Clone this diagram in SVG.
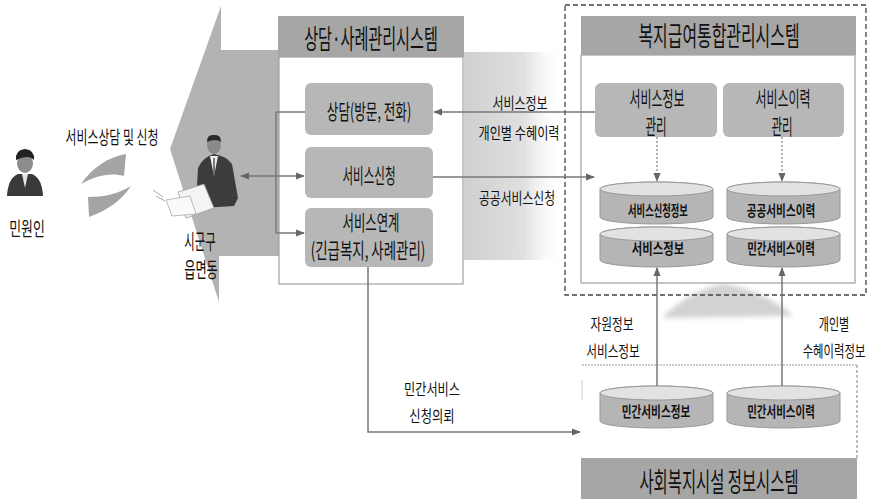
<svg xmlns="http://www.w3.org/2000/svg" width="872" height="499" viewBox="0 0 872 499">
<style>
text{font-family:"Noto Sans CJK KR","Noto Sans",sans-serif;fill:#111;text-anchor:middle;dominant-baseline:central}
.h{font-size:27px}
.b{font-size:21px}
.c{font-size:15px;font-weight:bold}
.l{font-size:16px}
.hdr{fill:#a6a6a6}
.box{fill:#b7b7b7}
.frame{fill:#fff;stroke:#a0a0a0;stroke-width:1.2}
.ln{fill:none;stroke:#777;stroke-width:1.5}
.dot{fill:none;stroke:#888;stroke-width:1.3;stroke-dasharray:2 2}
.dash{fill:none;stroke:#444;stroke-width:1.3;stroke-dasharray:5 3}
.cyl{fill:#b5b5b5;stroke:#999;stroke-width:1}
.cyltop{fill:#e2e2e2;stroke:#999;stroke-width:1}
</style>
<defs>
<marker id="ah" viewBox="0 0 10 10" refX="9" refY="5" markerUnits="userSpaceOnUse" markerWidth="9" markerHeight="9" orient="auto"><path d="M0,1 L10,5 L0,9 z" fill="#666"/></marker>
<linearGradient id="haze" x1="0" x2="1" y1="0" y2="0"><stop offset="0" stop-color="#cfcfcf"/><stop offset="0.6" stop-color="#e0e0e0"/><stop offset="1" stop-color="#ffffff" stop-opacity="0"/></linearGradient>
<filter id="soft" x="-20%" y="-20%" width="140%" height="140%"><feGaussianBlur stdDeviation="2.5"/></filter>
</defs>

<!-- hazy flow areas -->
<rect x="464" y="52" width="100" height="208" fill="url(#haze)"/>
<path d="M662,318 Q690,290 722,284 Q760,288 794,316 Z" fill="#d2d2d2" filter="url(#soft)"/>

<!-- big arrow of the local office -->
<g id="office">
<polygon points="221,6 221,50 279,50 279,256 219,256 219,302 170,149" fill="#b3b3b3"/>
<g id="officer">
<path d="M196,204 L198,168 Q203,157 214,154 Q226,156 232,164 L238,198 L234,206 L202,208 Z" fill="#3c3c3c"/>
<polygon points="210,156 218,156 214,176" fill="#eeeeee"/>
<line x1="214" y1="158" x2="214" y2="174" stroke="#555" stroke-width="1.5"/>
<ellipse cx="214" cy="145" rx="7" ry="9" fill="#8a8a8a"/>
<path d="M207,142 Q207,134 214,135 Q221,134 221,142 Q216,138 207,142 Z" fill="#2a2a2a"/>
<polygon points="178,192 204,184 214,208 186,218" fill="#f4f4f4" stroke="#999" stroke-width="0.8"/>
<polygon points="166,200 190,196 196,214 172,216" fill="#fafafa" stroke="#aaa" stroke-width="0.8"/>
<line x1="153" y1="190" x2="163" y2="197" stroke="#aaa" stroke-width="1"/>
<line x1="156" y1="196" x2="165" y2="201" stroke="#aaa" stroke-width="1"/>
</g>
<text class="b" transform="translate(200,240) scale(0.54,1)">시군구</text>
<text class="b" transform="translate(201,268) scale(0.58,1)">읍면동</text>
</g>

<!-- citizen -->
<g id="citizen">
<path d="M7,196 Q8,178 18,174 L32,174 Q42,178 43,196 Z" fill="#3a3a3a"/>
<polygon points="22,174 28,174 25,188" fill="#e6e6e6"/>
<ellipse cx="25" cy="163" rx="8" ry="10" fill="#8c8c8c"/>
<path d="M16,160 Q15,150 25,149 Q35,150 34,160 Q29,154 16,160 Z" fill="#222"/>
<text style="font-size:19px" transform="translate(27,228) scale(0.68,1)">민원인</text>
</g>

<!-- exchange between citizen and office -->
<g id="exchange">
<path d="M81,184 C92,168 108,157 126,154 L124,176 C110,172 95,176 81,184 Z" fill="#a4a4a4"/>
<path d="M131,186 C122,200 108,210 89,217 L88,197 C104,197 118,194 131,186 Z" fill="#a4a4a4"/>
<text style="font-size:18px" transform="translate(112,136) scale(0.66,1)">서비스상담 및 신청</text>
</g>

<!-- counselling / case management system -->
<g id="counsel-system">
<rect class="frame" x="279" y="57" width="184" height="227"/>
<rect class="hdr" x="278" y="16" width="186" height="41"/>
<text class="h" transform="translate(371,37) scale(0.56,1)">상담·사례관리시스템</text>
</g>
<g id="counsel">
<rect class="box" x="305" y="83" width="128" height="52" rx="6"/>
<text class="b" transform="translate(369,110) scale(0.6,1)">상담(방문, 전화)</text>
</g>
<g id="apply">
<rect class="box" x="305" y="147" width="128" height="51" rx="6"/>
<text class="b" transform="translate(369,174) scale(0.55,1)">서비스신청</text>
</g>
<g id="link">
<rect class="box" x="305" y="208" width="128" height="59" rx="6"/>
<text class="b" transform="translate(371,221) scale(0.59,1)">서비스연계</text>
<text class="b" transform="translate(368,249) scale(0.64,1)">(긴급복지, 사례관리)</text>
</g>

<!-- integrated welfare benefit system -->
<g id="benefit-system">
<rect class="dash" x="565" y="5" width="301" height="290"/>
<rect class="frame" x="581" y="55" width="274" height="228"/>
<rect class="hdr" x="581" y="16" width="275" height="39"/>
<text class="h" transform="translate(719,34) scale(0.59,1)">복지급여통합관리시스템</text>
</g>
<g id="info-mgmt">
<rect class="box" x="595" y="83" width="122" height="54" rx="6"/>
<text class="b" transform="translate(657,97) scale(0.57,1)">서비스정보</text>
<text class="b" transform="translate(656,125) scale(0.55,1)">관리</text>
</g>
<g id="history-mgmt">
<rect class="box" x="723" y="83" width="121" height="54" rx="6"/>
<text class="b" transform="translate(783,97) scale(0.57,1)">서비스이력</text>
<text class="b" transform="translate(782,125) scale(0.55,1)">관리</text>
</g>
<g id="db-apply">
<path class="cyl" d="M600,189 L600,217 A56.5,7 0 0 0 713,217 L713,189 A56.5,7 0 0 0 600,189 Z"/>
<ellipse class="cyltop" cx="656.5" cy="189" rx="56.5" ry="7"/>
<text class="c" transform="translate(658,210) scale(0.62,1)">서비스신청정보</text>
</g>
<g id="db-info">
<path class="cyl" d="M600,234 L600,260 A56.5,7 0 0 0 713,260 L713,234 A56.5,7 0 0 0 600,234 Z"/>
<ellipse class="cyltop" cx="656.5" cy="234" rx="56.5" ry="7"/>
<text class="c" transform="translate(658,248) scale(0.76,1)">서비스정보</text>
</g>
<g id="db-public">
<path class="cyl" d="M727,189 L727,217 A56.5,7 0 0 0 840,217 L840,189 A56.5,7 0 0 0 727,189 Z"/>
<ellipse class="cyltop" cx="783.5" cy="189" rx="56.5" ry="7"/>
<text class="c" transform="translate(781,210) scale(0.71,1)">공공서비스이력</text>
</g>
<g id="db-private">
<path class="cyl" d="M727,234 L727,260 A56.5,7 0 0 0 840,260 L840,234 A56.5,7 0 0 0 727,234 Z"/>
<ellipse class="cyltop" cx="783.5" cy="234" rx="56.5" ry="7"/>
<text class="c" transform="translate(781,248) scale(0.7,1)">민간서비스이력</text>
</g>

<!-- social welfare facility information system -->
<g id="facility-system">
<path d="M582,365 L857,365" fill="none" stroke="#999" stroke-width="1.2" stroke-dasharray="2 1"/>
<path d="M857,365 L857,458" fill="none" stroke="#999" stroke-width="1.2" stroke-dasharray="3 2"/>
<path d="M582,380 L582,400" fill="none" stroke="#ccc" stroke-width="1"/>
<rect class="hdr" x="581" y="458" width="276" height="41"/>
<text class="h" transform="translate(719,480) scale(0.57,1)">사회복지시설 정보시스템</text>
</g>
<g id="db-fac-info">
<path class="cyl" d="M600,393 L600,421 A56.5,7 0 0 0 713,421 L713,393 A56.5,7 0 0 0 600,393 Z"/>
<ellipse class="cyltop" cx="656.5" cy="393" rx="56.5" ry="7"/>
<text class="c" transform="translate(656,411) scale(0.71,1)">민간서비스정보</text>
</g>
<g id="db-fac-history">
<path class="cyl" d="M727,393 L727,421 A56.5,7 0 0 0 840,421 L840,393 A56.5,7 0 0 0 727,393 Z"/>
<ellipse class="cyltop" cx="783.5" cy="393" rx="56.5" ry="7"/>
<text class="c" transform="translate(781,411) scale(0.7,1)">민간서비스이력</text>
</g>

<!-- connectors -->
<g id="connectors">
<path class="ln" d="M276,112 L276,233"/>
<path class="ln" d="M276,112 L305,112"/>
<path class="ln" d="M276,176 L241,176" marker-end="url(#ah)"/>
<path class="ln" d="M276,176 L304,176" marker-end="url(#ah)"/>
<path class="ln" d="M276,233 L304,233" marker-end="url(#ah)"/>
<path class="ln" d="M595,112 L434,112" marker-end="url(#ah)"/>
<path class="ln" d="M433,177 L594,177" marker-end="url(#ah)"/>
<path class="dot" d="M657,137 L657,181" marker-end="url(#ah)"/>
<path class="dot" d="M782,137 L782,181" marker-end="url(#ah)"/>
<path class="ln" d="M657,386 L657,268" marker-end="url(#ah)"/>
<path class="ln" d="M782,386 L782,268" marker-end="url(#ah)"/>
<path class="ln" d="M368,267 L368,432 L580,432" marker-end="url(#ah)"/>
</g>

<!-- connector labels -->
<g id="labels">
<text class="l" transform="translate(520,102) scale(0.75,1)">서비스정보</text>
<text class="l" transform="translate(519,132) scale(0.76,1)">개인별 수혜이력</text>
<text class="l" transform="translate(517,197) scale(0.74,1)">공공서비스신청</text>
<text class="l" transform="translate(432,388) scale(0.76,1)">민간서비스</text>
<text class="l" transform="translate(432,415) scale(0.77,1)">신청의뢰</text>
<text class="l" transform="translate(612,323) scale(0.73,1)">자원정보</text>
<text class="l" transform="translate(613,350) scale(0.73,1)">서비스정보</text>
<text class="l" transform="translate(834,323) scale(0.69,1)">개인별</text>
<text class="l" transform="translate(834,350) scale(0.71,1)">수혜이력정보</text>
</g>
</svg>
